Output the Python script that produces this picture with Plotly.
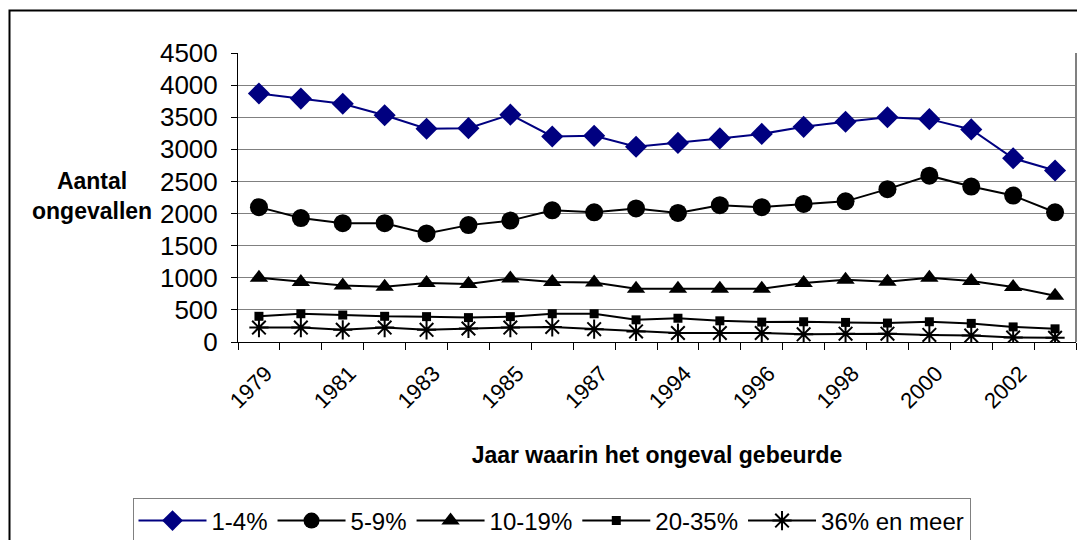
import plotly.graph_objects as go

years = ["1979", "1980", "1981", "1982", "1983", "1984", "1985", "1986", "1987", "1993",
         "1994", "1995", "1996", "1997", "1998", "1999", "2000", "2001", "2002", "2003"]
tick_years = ["1979", "1981", "1983", "1985", "1987", "1994", "1996", "1998", "2000", "2002"]

s_1_4 = [3870, 3790, 3710, 3530, 3320, 3330, 3540, 3200, 3210, 3040,
         3100, 3170, 3240, 3350, 3430, 3500, 3470, 3310, 2860, 2670]
s_5_9 = [2100, 1930, 1850, 1850, 1690, 1820, 1890, 2050, 2020, 2080,
         2010, 2130, 2100, 2150, 2190, 2380, 2590, 2420, 2280, 2020]
s_10_19 = [1000, 935, 880, 860, 920, 905, 990, 935, 925, 830,
           830, 830, 830, 920, 970, 940, 1000, 950, 855, 720]
s_20_35 = [400, 440, 420, 400, 395, 380, 395, 440, 440, 345,
           370, 330, 310, 315, 305, 295, 315, 290, 235, 205]
s_36 = [225, 225, 190, 225, 190, 210, 225, 235, 200, 165,
        140, 140, 140, 120, 130, 130, 110, 100, 70, 65]

FONT = "Arial, 'Liberation Sans', sans-serif"

# page shows the figure offset by the default body margin
OFF = 8
W, H = 1085, 540
L = round(238.3 - OFF)
T = round(53.3 - OFF)
B = round(H - (342.3 - OFF))
R = round(W - (1076 - OFF))
PW, PH = W - L - R, H - T - B


def px_x(px):
    return (px - OFF - L) / PW


def px_y(py):
    return (H - B - (py - OFF)) / PH


fig = go.Figure()
fig.add_trace(go.Scatter(x=years, y=s_1_4, name="1-4%", mode="lines+markers",
                         line=dict(color="#000080", width=2),
                         marker=dict(symbol="diamond", size=17, color="#000080")))
fig.add_trace(go.Scatter(x=years, y=s_5_9, name="5-9%", mode="lines+markers",
                         line=dict(color="#000000", width=2),
                         marker=dict(symbol="circle", size=18, color="#000000")))
fig.add_trace(go.Scatter(x=years, y=s_10_19, name="10-19%", mode="lines+markers",
                         line=dict(color="#000000", width=2),
                         marker=dict(symbol="triangle-up", size=16, color="#000000")))
fig.add_trace(go.Scatter(x=years, y=s_20_35, name="20-35%", mode="lines+markers",
                         line=dict(color="#000000", width=2),
                         marker=dict(symbol="square", size=9, color="#000000")))
fig.add_trace(go.Scatter(x=years, y=s_36, name="36% en meer", mode="lines+markers",
                         line=dict(color="#000000", width=2),
                         marker=dict(symbol="asterisk-open", size=16,
                                     line=dict(color="#000000", width=2))))

# invisible trace on secondary x axis (for boundary tick marks)
fig.add_trace(go.Scatter(x=[-0.5, 19.5], y=[0, 0], xaxis="x2", mode="lines",
                         line=dict(width=0), showlegend=False, hoverinfo="skip"))

fig.update_layout(
    width=W, height=H,
    margin=dict(l=L, r=R, t=T, b=B, autoexpand=False),
    paper_bgcolor="white", plot_bgcolor="white",
    font=dict(family=FONT, color="black"),
    xaxis=dict(type="category", range=[-0.5, 19.5], tickvals=tick_years, ticktext=tick_years,
               tickangle=-45, tickfont=dict(size=22), ticks="", showgrid=False,
               showline=True, linecolor="black", linewidth=1, zeroline=False,
               ticklabelstandoff=9, ticklabelshift=7, automargin=False,
               title=dict(text="<b>Jaar waarin het ongeval gebeurde</b>",
                          font=dict(size=23), standoff=34)),
    xaxis2=dict(overlaying="x", anchor="y", side="bottom", range=[-0.5, 19.5],
                tickvals=[i - 0.5 for i in range(21)], showticklabels=False,
                ticks="outside", ticklen=7, tickcolor="black", tickwidth=1,
                showgrid=False, zeroline=False, showline=False, automargin=False),
    yaxis=dict(range=[0, 4500], dtick=500, tickfont=dict(size=26),
               ticks="outside", ticklen=6, tickcolor="black",
               showgrid=True, gridcolor="#808080", gridwidth=1,
               showline=True, linecolor="black", linewidth=1, zeroline=False,
               ticklabelstandoff=8, automargin=False),
    legend=dict(orientation="h", xref="container", yref="container",
                x=(551.5 - OFF) / W, y=(H - (497.5 - OFF)) / H,
                xanchor="center", yanchor="top",
                bordercolor="#808080", borderwidth=1, bgcolor="white",
                font=dict(size=24), itemwidth=68, tracegroupgap=0),
    showlegend=True,
)

# plot-area right border (grey) and outer chart frame
fig.add_shape(type="line", xref="paper", yref="paper", x0=1, x1=1, y0=0, y1=1,
              line=dict(color="#808080", width=2))
fig.add_shape(type="rect", xref="paper", yref="paper",
              x0=px_x(9.5), x1=px_x(1110), y0=px_y(570), y1=px_y(10.5),
              line=dict(color="black", width=2), layer="below")

fig.add_annotation(text="<b>Aantal<br>ongevallen</b>", xref="paper", yref="paper",
                   x=px_x(92), y=px_y(196),
                   xanchor="center", yanchor="middle", align="center",
                   showarrow=False, font=dict(size=23, family=FONT))

fig.write_html("out.html")
